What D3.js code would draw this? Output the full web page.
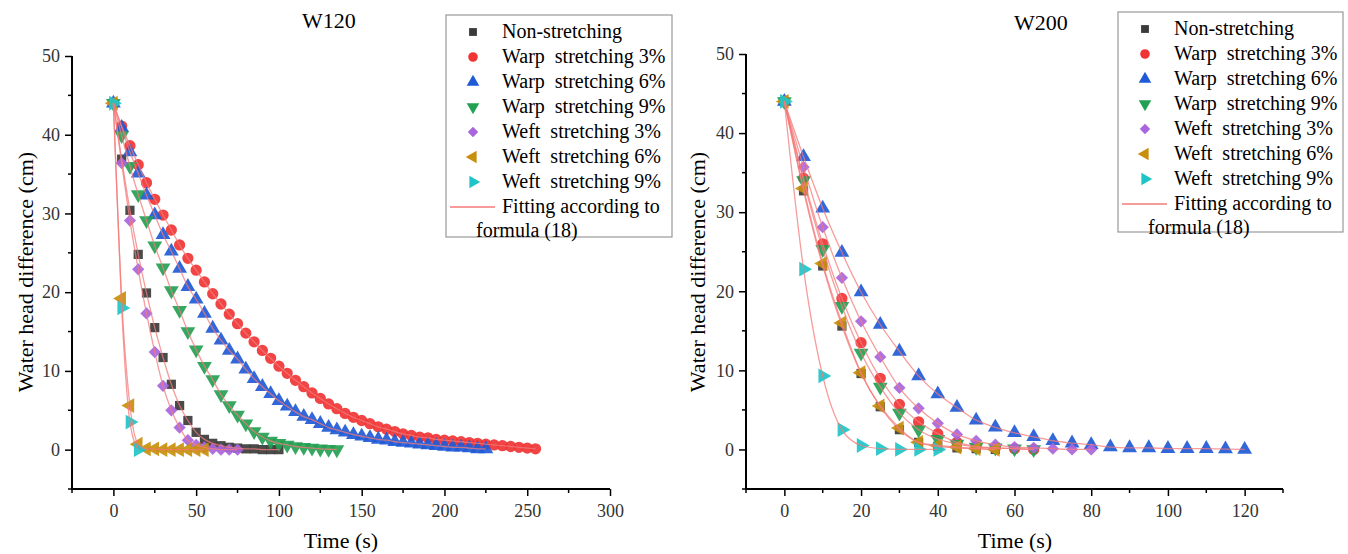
<!DOCTYPE html>
<meta charset="utf-8">
<title>Water head difference</title>
<style>
  body { margin: 0; background: #fff; }
  text { font-family: "Liberation Serif", "Times New Roman", serif; }
  .leg text { white-space: pre; }
</style>
<div id="viz"></div>
<script src="https://cdnjs.cloudflare.com/ajax/libs/d3/7.8.5/d3.min.js"></script>
<script>

var width = 1348;
var height = 554;

// series names (legend order)
var seriesNames = ["Non-stretching", "Warp  stretching 3%", "Warp  stretching 6%",
  "Warp  stretching 9%", "Weft  stretching 3%", "Weft  stretching 6%", "Weft  stretching 9%"];
var fitLabel = ["Fitting according to", "formula (18)"];

// sampled every 5 s starting at t = 0
var step = 5;

// W120 (cm)
var w120NonStretch = [44, 36.9, 30.4, 24.8, 19.9, 15.5, 11.7, 8.3, 5.6, 3.7, 2.2, 1.3, 0.8, 0.5, 0.3, 0.2,
  0.1, 0.1, 0, 0, 0];
var w120Warp3 = [44, 41.1, 38.6, 36.2, 33.9, 31.8, 29.8, 27.9, 26.0, 24.3, 22.8, 21.3, 19.8, 18.5, 17.2,
  16.0, 14.8, 13.7, 12.6, 11.6, 10.6, 9.7, 8.8, 8.0, 7.2, 6.5, 5.8, 5.2, 4.6, 4.1, 3.7, 3.3, 2.9, 2.6,
  2.3, 2.0, 1.8, 1.6, 1.5, 1.3, 1.2, 1.1, 1.0, 0.9, 0.8, 0.7, 0.6, 0.5, 0.4, 0.3, 0.2, 0.1];
var w120Warp6 = [44, 40.9, 37.8, 35.1, 32.3, 29.8, 27.3, 25.2, 23.0, 20.7, 19.1, 17.3, 15.4, 13.9, 12.6,
  11.5, 10.2, 9.0, 8.0, 7.1, 6.2, 5.5, 4.8, 4.2, 3.8, 3.3, 2.8, 2.5, 2.2, 1.9, 1.7, 1.5, 1.3, 1.2, 1.0,
  0.9, 0.8, 0.7, 0.6, 0.5, 0.4, 0.3, 0.3, 0.2, 0.1, 0.1];
var w120Warp9 = [44, 39.9, 36.0, 32.4, 29.1, 25.9, 23.1, 20.2, 17.7, 15.0, 12.7, 10.6, 8.9, 7.0, 5.6, 4.4,
  3.3, 2.3, 1.6, 1.1, 0.8, 0.6, 0.4, 0.3, 0.2, 0.1, 0.05, 0];
var w120Weft3 = [44, 36.4, 29.1, 22.9, 17.3, 12.4, 8.1, 5.0, 2.8, 1.2, 0.6, 0.3, 0.1, 0, 0, 0];
var w120Weft6 = [44, 19.2, 5.6, 0.7, 0.1, 0.1, 0, 0, 0, 0, 0, 0];
var w120Weft9 = [44, 18.0, 3.5, 0];

// W200 (cm)
var w200NonStretch = [44, 32.7, 23.2, 15.6, 9.6, 5.4, 2.5, 0.9, 0.4, 0.2, 0.1, 0];
var w200Warp3 = [44, 34.3, 26.0, 19.1, 13.5, 9.0, 5.7, 3.5, 2.0, 0.9, 0.4, 0.2, 0.1, 0];
var w200Warp6 = [44, 37.0, 30.5, 24.9, 19.9, 15.8, 12.4, 9.3, 7.0, 5.3, 3.7, 2.8, 2.1, 1.6, 1.1, 0.8,
  0.6, 0.3, 0.2, 0.2, 0.1, 0.1, 0.1, 0.05, 0];
var w200Warp9 = [44, 34.0, 25.3, 18.1, 12.2, 7.9, 4.6, 2.5, 1.3, 0.7, 0.3, 0.2, 0.1, 0];
var w200Weft3 = [44, 35.7, 28.1, 21.7, 16.2, 11.7, 7.8, 5.2, 3.3, 1.9, 1.1, 0.6, 0.3, 0.2, 0.1, 0, 0];
var w200Weft6 = [44, 33.0, 23.5, 16.0, 9.7, 5.5, 2.7, 0.9, 0.5, 0.3, 0.1, 0];
var w200Weft9 = [44, 22.8, 9.3, 2.5, 0.5, 0.1, 0, 0, 0];

var colors = ["#3b3b3b", "#f03434", "#1f5ad6", "#23a052", "#a865dc", "#c88f0c", "#1fc4c8"];
var fitColor = "#f47a7a";

var svg = d3.select("#viz").append("svg")
  .attr("width", width)
  .attr("height", height);

// marker shapes
function marker(i) {
  var shapes = [d3.symbolSquare, d3.symbolCircle, d3.symbolTriangle, d3.symbolTriangle,
    d3.symbolSquare, d3.symbolTriangle, d3.symbolTriangle];
  var sizes = [85, 100, 95, 95, 75, 95, 95];
  return d3.symbol().type(shapes[i]).size(sizes[i])();
}
var rot = [0, 0, 0, 180, 45, -90, 90];

function panel(opt) {
  var g = svg.append("g");
  var x = d3.scaleLinear().domain(opt.xDomain).range(opt.xRange);
  var y = d3.scaleLinear().domain([-5, 50]).range([489, opt.yTop]);

  // axes
  var xAxis = d3.axisBottom(x).tickValues(d3.range(0, opt.xDomain[1] + 1, opt.xMajor))
    .tickSize(7).tickPadding(8);
  var gx = g.append("g").attr("transform", "translate(0,489)").call(xAxis);
  gx.append("g").selectAll("line")
    .data(d3.range(opt.xMinorStart, opt.xDomain[1] + 1, opt.xMajor))
    .enter().append("line")
    .attr("x1", function(d) { return x(d); }).attr("x2", function(d) { return x(d); })
    .attr("y1", 0).attr("y2", 4).attr("stroke", "#000").attr("stroke-width", 1.5);

  var yAxis = d3.axisLeft(y).tickValues([0, 10, 20, 30, 40, 50]).tickSize(7).tickPadding(5);
  var gy = g.append("g").attr("transform", "translate(" + opt.xRange[0] + ",0)").call(yAxis);
  gy.append("g").selectAll("line")
    .data([-5, 5, 15, 25, 35, 45])
    .enter().append("line")
    .attr("y1", function(d) { return y(d); }).attr("y2", function(d) { return y(d); })
    .attr("x1", 0).attr("x2", -4).attr("stroke", "#000").attr("stroke-width", 1.5);

  gx.select(".domain").attr("d", "M" + opt.xRange[0] + ",0H" + opt.xRange[1]);
  gy.select(".domain").attr("d", "M0," + y(-5) + "V" + y(50));
  [gx, gy].forEach(function(a) {
    a.select(".domain").attr("stroke-width", 2);
    a.selectAll(".tick line").attr("stroke-width", 1.5);
    a.selectAll(".tick text").attr("font-size", 18).attr("fill", "#333")
      .attr("font-family", "Liberation Serif, serif");
  });

  // markers
  opt.series.forEach(function(vals, i) {
    g.append("g").selectAll("path")
      .data(vals)
      .enter().append("path")
      .attr("d", marker(i))
      .attr("transform", function(d, j) {
        return "translate(" + x(j * step) + "," + y(d) + ") rotate(" + rot[i] + ")";
      })
      .attr("fill", colors[i])
      .attr("fill-opacity", 0.92);
  });

  // fitted curves
  var line = d3.line()
    .x(function(d, j) { return x(j * step); })
    .y(function(d) { return y(d); })
    .curve(d3.curveMonotoneX);
  opt.series.forEach(function(vals) {
    g.append("path")
      .attr("d", line(vals))
      .attr("fill", "none")
      .attr("stroke", fitColor)
      .attr("stroke-opacity", 0.75)
      .attr("stroke-width", 1.3);
  });

  // labels
  g.append("text").attr("x", opt.titleX).attr("y", opt.titleY)
    .attr("text-anchor", "middle").attr("font-size", 22).text(opt.title);
  g.append("text").attr("x", opt.xlabX).attr("y", 548)
    .attr("text-anchor", "middle").attr("font-size", 22).text("Time (s)");
  g.append("text")
    .attr("transform", "translate(" + opt.ylabX + ",272) rotate(-90)")
    .attr("text-anchor", "middle").attr("font-size", 22).text("Water head difference (cm)");

  // legend
  var leg = g.append("g").attr("class", "leg");
  leg.append("rect")
    .attr("x", opt.legBox[0]).attr("y", opt.legBox[1])
    .attr("width", opt.legBox[2]).attr("height", opt.legBox[3])
    .attr("fill", "#fff").attr("stroke", "#999").attr("stroke-width", 1.2);
  seriesNames.forEach(function(name, i) {
    var cy = opt.legBox[1] + 17 + i * 25;
    leg.append("path")
      .attr("d", marker(i))
      .attr("transform", "translate(" + opt.legSym + "," + cy + ") rotate(" + rot[i] + ") scale(0.85)")
      .attr("fill", colors[i]);
    leg.append("text").attr("x", opt.legSym + 29).attr("y", cy + 6)
      .attr("font-size", 20).text(name);
  });
  var fy = opt.legBox[1] + 17 + 7 * 25;
  leg.append("line")
    .attr("x1", opt.legSym - 23).attr("x2", opt.legSym + 22)
    .attr("y1", fy).attr("y2", fy)
    .attr("stroke", fitColor).attr("stroke-width", 1.3);
  leg.append("text").attr("x", opt.legSym + 29).attr("y", fy + 6)
    .attr("font-size", 20).text(fitLabel[0]);
  leg.append("text").attr("x", opt.legSym + 3).attr("y", fy + 30)
    .attr("font-size", 20).text(fitLabel[1]);
}

panel({
  title: "W120", titleX: 329, titleY: 28,
  xDomain: [-25, 300], xRange: [72, 610], xMajor: 50, xMinorStart: -25,
  yTop: 56, xlabX: 341, ylabX: 33,
  legBox: [446, 15, 226, 222], legSym: 473,
  series: [w120NonStretch, w120Warp3, w120Warp6, w120Warp9, w120Weft3, w120Weft6, w120Weft9]
});

panel({
  title: "W200", titleX: 1041, titleY: 30,
  xDomain: [-10, 130], xRange: [746, 1283], xMajor: 20, xMinorStart: -10,
  yTop: 54, xlabX: 1015, ylabX: 705,
  legBox: [1118, 12, 225, 220], legSym: 1145,
  series: [w200NonStretch, w200Warp3, w200Warp6, w200Warp9, w200Weft3, w200Weft6, w200Weft9]
});

</script>
